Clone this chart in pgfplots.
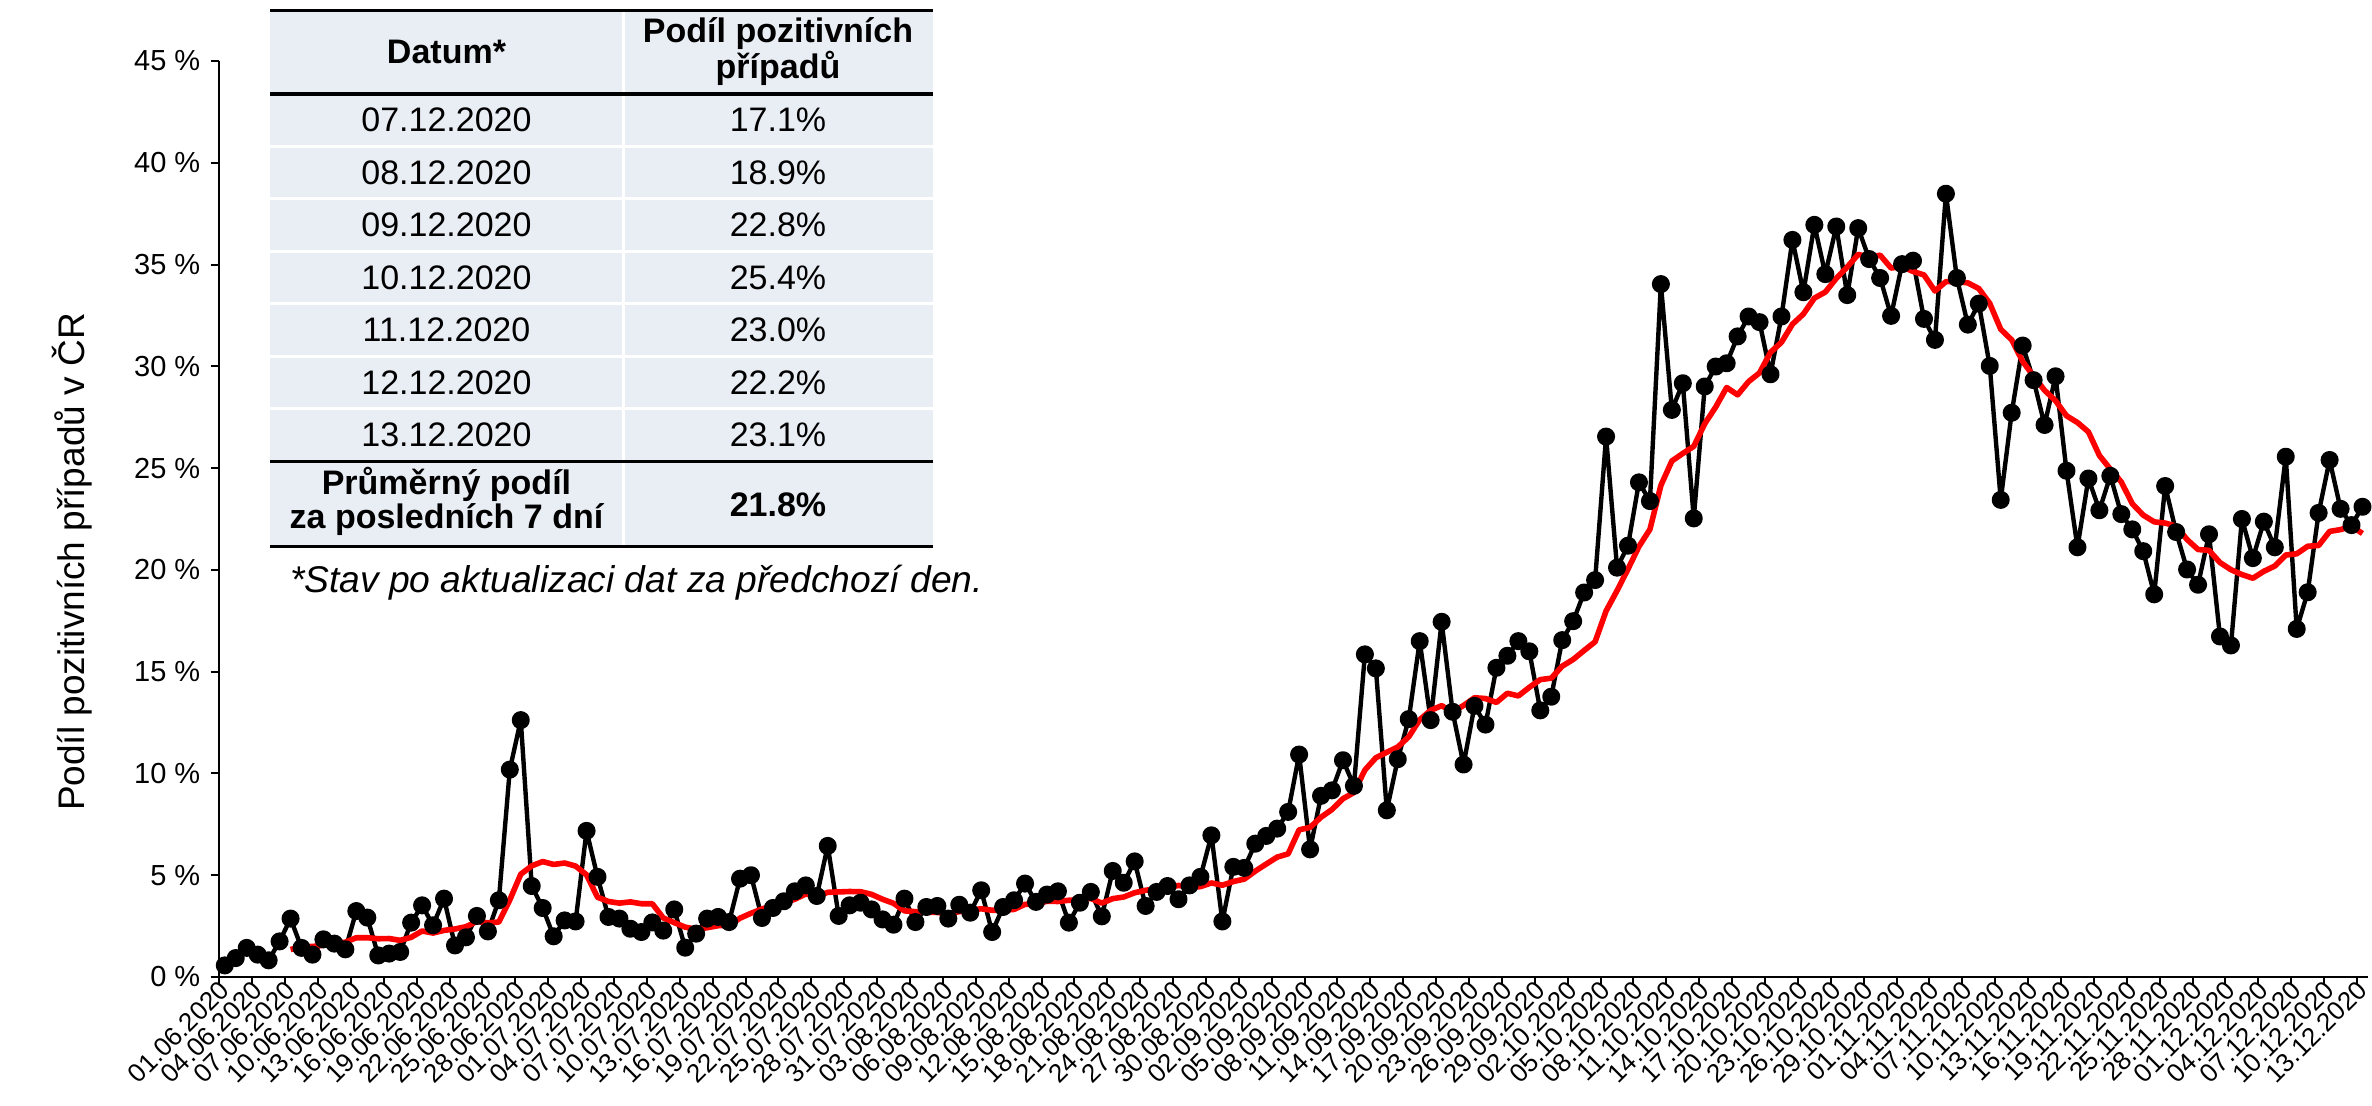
\documentclass[border=0pt]{standalone}
\usepackage{fontspec}
\setmainfont{Liberation Sans}
\usepackage{pgfplots}
\pgfplotsset{compat=1.18}
\definecolor{tabbg}{RGB}{233,237,244}
\begin{document}
\begin{tikzpicture}
\path[use as bounding box] (0pt,0pt) rectangle (1186pt,552.5pt);
\begin{axis}[
  at={(109.65pt,64pt)}, anchor=south west,
  scale only axis, width=1074.35pt, height=458pt,
  xmin=-0.5, xmax=195.5, ymin=0, ymax=45,
  axis lines=left, axis line style={-, line width=1pt, black},
  tick align=outside,
  ytick={0,5,...,45},
  yticklabels={0 \%,5 \%,10 \%,15 \%,20 \%,25 \%,30 \%,35 \%,40 \%,45 \%},
  yticklabel style={font=\fontsize{14.5}{14.5}\selectfont, inner sep=0pt, xshift=-5pt},
  xtick={0,3,...,195},
  xticklabels={01.06.2020,04.06.2020,07.06.2020,10.06.2020,13.06.2020,16.06.2020,19.06.2020,22.06.2020,25.06.2020,28.06.2020,
01.07.2020,04.07.2020,07.07.2020,10.07.2020,13.07.2020,16.07.2020,19.07.2020,22.07.2020,25.07.2020,28.07.2020,31.07.2020,
03.08.2020,06.08.2020,09.08.2020,12.08.2020,15.08.2020,18.08.2020,21.08.2020,24.08.2020,27.08.2020,30.08.2020,
02.09.2020,05.09.2020,08.09.2020,11.09.2020,14.09.2020,17.09.2020,20.09.2020,23.09.2020,26.09.2020,29.09.2020,
02.10.2020,05.10.2020,08.10.2020,11.10.2020,14.10.2020,17.10.2020,20.10.2020,23.10.2020,26.10.2020,29.10.2020,
01.11.2020,04.11.2020,07.11.2020,10.11.2020,13.11.2020,16.11.2020,19.11.2020,22.11.2020,25.11.2020,28.11.2020,
01.12.2020,04.12.2020,07.12.2020,10.12.2020,13.12.2020},
  xticklabel style={font=\fontsize{13}{13}\selectfont, rotate=45, anchor=east, inner sep=0pt},
  major tick length=4.3pt,
  major x tick style={draw=none},
  minor xtick={-0.5,2.5,...,194.5},
  minor tick length=3.9pt,
  minor x tick style={black, line width=1pt},
  major y tick style={black, line width=1pt},
  clip=false,
]
\addplot[black, line width=2.2pt, line join=round, mark=*, mark size=3.4pt, mark options={fill=black, solid}] coordinates {
(0,0.57)(1,0.93)(2,1.43)(3,1.10)(4,0.82)(5,1.75)(6,2.87)(7,1.43)(8,1.10)(9,1.85)
(10,1.64)(11,1.36)(12,3.24)(13,2.92)(14,1.06)(15,1.15)(16,1.23)(17,2.67)(18,3.52)(19,2.54)
(20,3.85)(21,1.55)(22,1.95)(23,3.00)(24,2.24)(25,3.77)(26,10.19)(27,12.62)(28,4.47)(29,3.39)
(30,2.00)(31,2.78)(32,2.73)(33,7.18)(34,4.92)(35,2.95)(36,2.87)(37,2.37)(38,2.21)(39,2.68)
(40,2.28)(41,3.32)(42,1.44)(43,2.13)(44,2.87)(45,2.95)(46,2.70)(47,4.83)(48,5.00)(49,2.90)
(50,3.39)(51,3.72)(52,4.21)(53,4.50)(54,3.98)(55,6.44)(56,3.00)(57,3.52)(58,3.65)(59,3.32)
(60,2.83)(61,2.57)(62,3.85)(63,2.70)(64,3.44)(65,3.49)(66,2.87)(67,3.55)(68,3.16)(69,4.26)
(70,2.21)(71,3.44)(72,3.77)(73,4.59)(74,3.69)(75,4.05)(76,4.21)(77,2.67)(78,3.65)(79,4.18)
(80,2.98)(81,5.21)(82,4.63)(83,5.68)(84,3.49)(85,4.18)(86,4.47)(87,3.82)(88,4.50)(89,4.92)
(90,6.96)(91,2.73)(92,5.41)(93,5.36)(94,6.55)(95,6.93)(96,7.29)(97,8.11)(98,10.93)(99,6.27)
(100,8.90)(101,9.17)(102,10.65)(103,9.39)(104,15.85)(105,15.16)(106,8.19)(107,10.70)(108,12.67)(109,16.50)
(110,12.62)(111,17.45)(112,13.03)(113,10.44)(114,13.32)(115,12.40)(116,15.19)(117,15.78)(118,16.50)(119,16.00)
(120,13.10)(121,13.77)(122,16.55)(123,17.48)(124,18.89)(125,19.50)(126,26.55)(127,20.11)(128,21.19)(129,24.30)
(130,23.38)(131,34.04)(132,27.86)(133,29.17)(134,22.53)(135,29.01)(136,29.99)(137,30.15)(138,31.47)(139,32.45)
(140,32.17)(141,29.61)(142,32.45)(143,36.21)(144,33.64)(145,36.95)(146,34.53)(147,36.87)(148,33.50)(149,36.79)
(150,35.27)(151,34.34)(152,32.48)(153,35.02)(154,35.19)(155,32.33)(156,31.30)(157,38.48)(158,34.34)(159,32.05)
(160,33.08)(161,30.02)(162,23.44)(163,27.72)(164,31.02)(165,29.32)(166,27.12)(167,29.51)(168,24.87)(169,21.11)
(170,24.49)(171,22.93)(172,24.62)(173,22.74)(174,21.99)(175,20.92)(176,18.80)(177,24.12)(178,21.86)(179,20.02)
(180,19.27)(181,21.75)(182,16.73)(183,16.29)(184,22.50)(185,20.58)(186,22.37)(187,21.11)(188,25.56)(189,17.10)
(190,18.90)(191,22.80)(192,25.40)(193,23.00)(194,22.20)(195,23.10)
};
\addplot[red, line width=2.8pt, line join=round, no marks] coordinates {
(6,1.35)(7,1.48)(8,1.50)(9,1.56)(10,1.64)(11,1.71)(12,1.93)(13,1.93)(14,1.88)(15,1.89)(16,1.80)(17,1.95)(18,2.26)(19,2.16)
(20,2.29)(21,2.36)(22,2.47)(23,2.73)(24,2.66)(25,2.70)(26,3.79)(27,5.05)(28,5.46)(29,5.67)(30,5.53)(31,5.60)(32,5.45)(33,5.02)
(34,3.92)(35,3.71)(36,3.63)(37,3.69)(38,3.60)(39,3.60)(40,2.90)(41,2.67)(42,2.45)(43,2.35)(44,2.42)(45,2.52)(46,2.53)(47,2.89)
(48,3.13)(49,3.34)(50,3.52)(51,3.64)(52,3.82)(53,4.08)(54,3.96)(55,4.16)(56,4.18)(57,4.20)(58,4.19)(59,4.06)(60,3.82)(61,3.62)
(62,3.25)(63,3.21)(64,3.19)(65,3.17)(66,3.11)(67,3.21)(68,3.29)(69,3.35)(70,3.28)(71,3.28)(72,3.32)(73,3.57)(74,3.59)(75,3.72)
(76,3.71)(77,3.77)(78,3.80)(79,3.86)(80,3.63)(81,3.85)(82,3.93)(83,4.14)(84,4.26)(85,4.34)(86,4.38)(87,4.50)(88,4.40)(89,4.44)
(90,4.62)(91,4.51)(92,4.69)(93,4.81)(94,5.20)(95,5.55)(96,5.89)(97,6.05)(98,7.23)(99,7.35)(100,7.85)(101,8.23)(102,8.76)(103,9.06)
(104,10.17)(105,10.77)(106,11.04)(107,11.30)(108,11.80)(109,12.64)(110,13.10)(111,13.33)(112,13.02)(113,13.34)(114,13.72)(115,13.68)
(116,13.49)(117,13.94)(118,13.81)(119,14.23)(120,14.61)(121,14.68)(122,15.27)(123,15.60)(124,16.04)(125,16.47)(126,17.98)(127,18.98)
(128,20.04)(129,21.15)(130,21.99)(131,24.15)(132,25.35)(133,25.72)(134,26.07)(135,27.18)(136,28.00)(137,28.96)(138,28.60)(139,29.25)
(140,29.68)(141,30.69)(142,31.18)(143,32.07)(144,32.57)(145,33.35)(146,33.65)(147,34.32)(148,34.88)(149,35.50)(150,35.36)(151,35.46)
(152,34.83)(153,34.90)(154,34.66)(155,34.49)(156,33.70)(157,34.16)(158,34.16)(159,34.10)(160,33.82)(161,33.09)(162,31.82)(163,31.30)
(164,30.24)(165,29.52)(166,28.82)(167,28.31)(168,27.57)(169,27.24)(170,26.78)(171,25.62)(172,24.95)(173,24.32)(174,23.25)(175,22.69)
(176,22.36)(177,22.30)(178,22.15)(179,21.49)(180,21.00)(181,20.96)(182,20.36)(183,20.01)(184,19.77)(185,19.59)(186,19.93)(187,20.19)
(188,20.73)(189,20.79)(190,21.16)(191,21.20)(192,21.89)(193,21.98)(194,22.14)(195,21.79)
};
\end{axis}
% y label
\node[rotate=90, font=\fontsize{18.5}{18.5}\selectfont] at (36.3pt,271.5pt) {Podíl pozitivních případů v ČR};
% table
\fill[tabbg] (135pt,279.5pt) rectangle (466.5pt,547.2pt);
\foreach \k in {1,...,6} {
  \draw[white, line width=1.5pt] (135pt,{(505.5-26.25*\k)*1pt}) -- (466.5pt,{(505.5-26.25*\k)*1pt});
}
\draw[white, line width=1.5pt] (311.5pt,279.5pt) -- (311.5pt,547.2pt);
\draw[black, line width=1.2pt] (135pt,547.2pt) -- (466.5pt,547.2pt);
\draw[black, line width=1.75pt] (135pt,505.5pt) -- (466.5pt,505.5pt);
\draw[black, line width=1.5pt] (135pt,321.75pt) -- (466.5pt,321.75pt);
\draw[black, line width=1.5pt] (135pt,279.5pt) -- (466.5pt,279.5pt);
\node[font=\bfseries\fontsize{17}{17}\selectfont] at (223.25pt,526.4pt) {Datum*};
\node[align=center, font=\bfseries\fontsize{17}{16.75}\selectfont] at (389pt,526.6pt) {Podíl pozitivních\\případů};
\foreach \d/\v [count=\k from 0] in {07.12.2020/17.1\%,08.12.2020/18.9\%,09.12.2020/22.8\%,10.12.2020/25.4\%,11.12.2020/23.0\%,12.12.2020/22.2\%,13.12.2020/23.1\%} {
  \node[font=\fontsize{17}{17}\selectfont] at (223.25pt,{(492.375-26.25*\k)*1pt}) {\d};
  \node[font=\fontsize{17}{17}\selectfont] at (389pt,{(492.375-26.25*\k)*1pt}) {\v};
}
\node[align=center, font=\bfseries\fontsize{17}{15.5}\selectfont] at (223.25pt,302pt) {Průměrný podíl\\za posledních 7 dní};
\node[font=\bfseries\fontsize{17}{17}\selectfont] at (389pt,300.3pt) {21.8\%};
\node[anchor=base west, font=\itshape\fontsize{18.6}{18.6}\selectfont] at (141.5pt,256.5pt) {*Stav po aktualizaci dat za předchozí den.};
\end{tikzpicture}
\end{document}
